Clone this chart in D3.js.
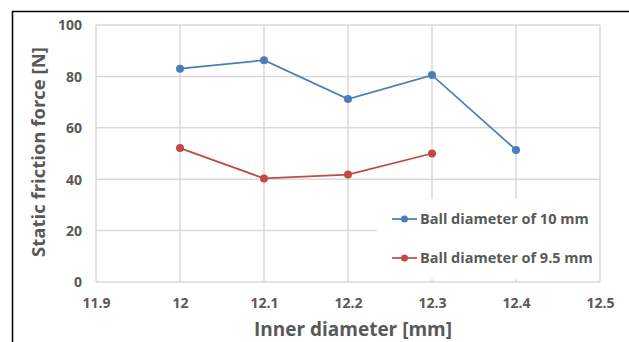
<!DOCTYPE html>
<html>
<head>
<meta charset="utf-8">
<script src="https://cdn.jsdelivr.net/npm/d3@7"></script>
<style>
  body { margin: 0; background: white; }
  text { font-family: "Open Sans", "DejaVu Sans", sans-serif; }
</style>
</head>
<body>
<div id="chart"></div>
<script>
// data
const innerDiameters = [12, 12.1, 12.2, 12.3, 12.4];
const ball10 = [83, 86.3, 71.2, 80.5, 51.4];
const ball95 = [52.1, 40.3, 41.8, 50.0];
const seriesNames = ["Ball diameter of 10 mm", "Ball diameter of 9.5 mm"];
const seriesColors = ["#4a7ebb", "#be4b48"];
const xTicks = [11.9, 12, 12.1, 12.2, 12.3, 12.4, 12.5];
const yTicks = [0, 20, 40, 60, 80, 100];

const W = 629, H = 342;
const margins = {top: 25, right: 29, bottom: 60, left: 96};

const svg = d3.select("#chart")
    .append("svg")
        .attr("width", W)
        .attr("height", H);

// black frame around the figure (cut on right and bottom)
svg.append("path")
    .attr("d", `M12.5,${H} V11.5 H${W}`)
    .attr("fill", "none")
    .attr("stroke", "#000")
    .attr("stroke-width", 1.5);

const xScale = d3.scaleLinear()
    .domain([11.9, 12.5])
    .range([margins.left, W - margins.right]);

const yScale = d3.scaleLinear()
    .domain([0, 100])
    .range([H - margins.bottom, margins.top]);

// gridlines
const grid = svg.append("g");
grid.selectAll(".hg")
    .data(yTicks)
    .join("line")
        .attr("x1", xScale(11.9))
        .attr("x2", xScale(12.5))
        .attr("y1", d => yScale(d))
        .attr("y2", d => yScale(d))
        .attr("stroke", "#d9d9d9")
        .attr("stroke-width", 1.5);
grid.selectAll(".vg")
    .data(xTicks)
    .join("line")
        .attr("x1", d => xScale(d))
        .attr("x2", d => xScale(d))
        .attr("y1", yScale(0))
        .attr("y2", yScale(100))
        .attr("stroke", "#d9d9d9")
        .attr("stroke-width", 1.5);

// axes (labels only)
const yAxis = svg.append("g")
    .attr("transform", `translate(${margins.left - 14},0)`)
    .call(d3.axisLeft(yScale).tickValues(yTicks).tickSize(0).tickPadding(0));
const xAxis = svg.append("g")
    .attr("transform", `translate(0,${yScale(0) + 16})`)
    .call(d3.axisBottom(xScale).tickValues(xTicks).tickSize(0).tickPadding(0).tickFormat(d3.format("")));
[yAxis, xAxis].forEach(a => {
    a.select(".domain").remove();
    a.selectAll("text")
        .style("font-family", "'Open Sans', sans-serif")
        .style("font-size", "14px")
        .style("font-weight", "bold")
        .attr("fill", "#595959");
});
yAxis.selectAll("text").attr("dy", "0.35em");
xAxis.selectAll("text").attr("dy", "0.71em");

// axis titles
svg.append("text")
    .attr("x", 353)
    .attr("y", 336)
    .attr("text-anchor", "middle")
    .style("font-size", "19px")
    .style("font-weight", "bold")
    .attr("fill", "#595959")
    .text("Inner diameter [mm]");

svg.append("text")
    .attr("transform", `translate(45,152) rotate(-90)`)
    .attr("text-anchor", "middle")
    .style("font-size", "18.5px")
    .style("font-weight", "bold")
    .attr("fill", "#595959")
    .text("Static friction force [N]");

// lines + markers
const allSeries = [ball10, ball95];
const line = d3.line()
    .x(d => xScale(d.x))
    .y(d => yScale(d.y));

allSeries.forEach((vals, i) => {
    const pts = vals.map((v, j) => ({x: innerDiameters[j], y: v}));
    svg.append("path")
        .datum(pts)
        .attr("d", line)
        .attr("fill", "none")
        .attr("stroke", seriesColors[i])
        .attr("stroke-width", 1.75);
    svg.append("g")
        .selectAll("circle")
        .data(pts)
        .join("circle")
            .attr("cx", d => xScale(d.x))
            .attr("cy", d => yScale(d.y))
            .attr("r", 4)
            .attr("fill", seriesColors[i]);
});

// legend with white background covering the grid
const legendGroup = svg.append("g")
    .attr("transform", "translate(377,199)");
legendGroup.append("rect")
    .attr("width", 222)
    .attr("height", 80)
    .attr("fill", "white");
const items = legendGroup.selectAll(".item")
    .data(seriesNames)
    .join("g")
        .attr("transform", (d, i) => `translate(0,${20 + i * 39})`);
items.append("line")
    .attr("x1", 15).attr("x2", 40)
    .attr("stroke", (d, i) => seriesColors[i])
    .attr("stroke-width", 1.75);
items.append("circle")
    .attr("cx", 27.5).attr("r", 3.5)
    .attr("fill", (d, i) => seriesColors[i]);
items.append("text")
    .attr("x", 43)
    .attr("dy", "0.35em")
    .style("font-size", "14.5px")
    .style("font-weight", "bold")
    .attr("fill", "#595959")
    .text(d => d);
</script>
</body>
</html>
